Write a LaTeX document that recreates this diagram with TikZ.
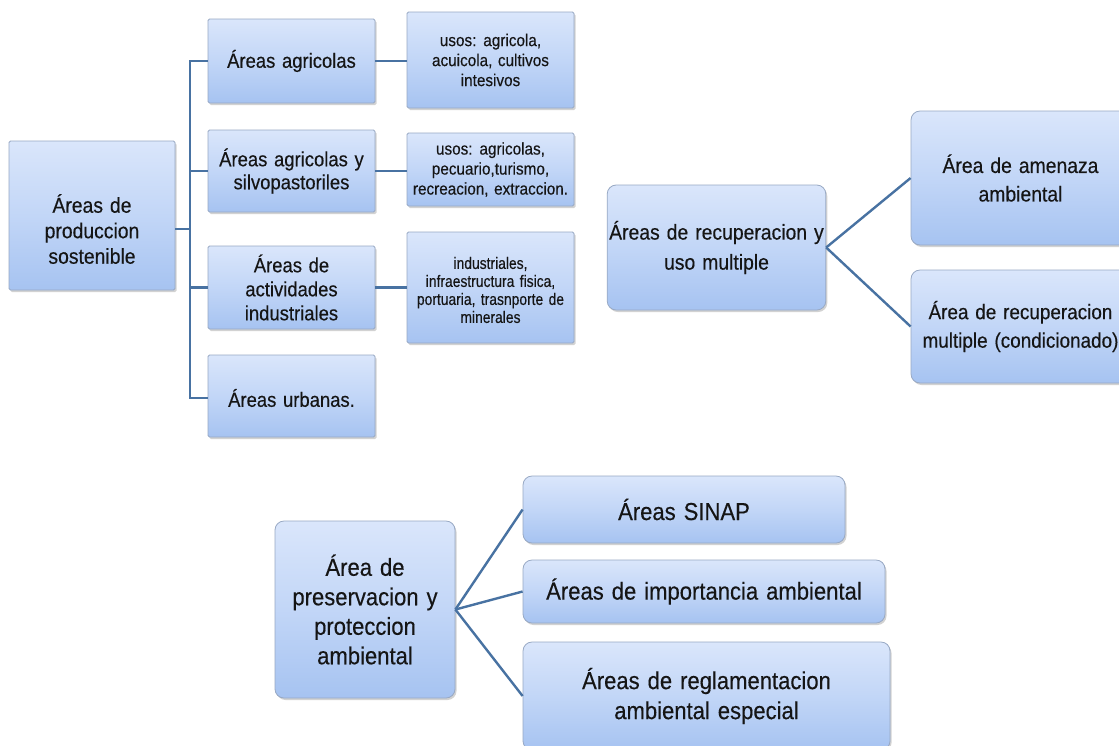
\documentclass[tikz,border=0pt]{standalone}
\usepackage{fontspec}
\setmainfont{Liberation Sans}[FakeStretch=0.9, WordSpace=1.3, FakeBold=0.3]
\newfontfamily\narrowfont{Liberation Sans}[FakeStretch=0.84, WordSpace=1.4, FakeBold=0.3]
\usetikzlibrary{shadows,calc}
\definecolor{boxtop}{HTML}{DAE6FB}
\definecolor{boxmid}{HTML}{C2D6F7}
\definecolor{boxbot}{HTML}{A6C3F1}
\definecolor{boxline}{HTML}{98A9C4}
\definecolor{linkblue}{HTML}{4872A2}
\definecolor{ink}{HTML}{151515}
\tikzset{
  box/.style={draw=boxline, line width=0.8pt, top color=boxtop, bottom color=boxbot,
    middle color=boxmid, inner sep=2pt, align=center, text=ink,
    drop shadow={opacity=0.35, shadow xshift=1.5pt, shadow yshift=-2pt, fill=gray}},
  sqbox/.style={box, rounded corners=1.5pt},
  rdbox/.style={box, rounded corners=9pt},
  txt/.style={align=center, text=ink, inner sep=0pt},
  link/.style={draw=linkblue, line width=2.8pt},
  slant/.style={draw=linkblue, line width=2.4pt},
}
\newcommand{\fs}[2]{\fontsize{#1}{#2}\selectfont}
\begin{document}
\begin{tikzpicture}[x=1pt, y=-1pt]
\clip (0,0) rectangle (1119,745);
\fill[white] (0,0) rectangle (1119,745);

% --- producción sostenible ---
\node[sqbox, minimum width=166pt, minimum height=149pt] (a) at (92,215.5) {};
\node[txt, font=\fs{21.5}{25.5}] (atext) at (92,229) {Áreas de\\produccion\\sostenible};

\node[sqbox, minimum width=167pt, minimum height=84pt, font=\fs{20.5}{23}] (b1) at (291.5,61) {Áreas agricolas};
\node[sqbox, minimum width=167pt, minimum height=82pt, font=\fs{20.5}{23}] (b2) at (291.5,171) {Áreas agricolas y\\silvopastoriles};
\node[sqbox, minimum width=167pt, minimum height=83pt, font=\fs{20.5}{24}] (b3) at (291.5,287.5) {Áreas de\\actividades\\industriales};
\node[sqbox, minimum width=167pt, minimum height=82pt] (b4) at (291.5,396) {};
\node[txt, font=\fs{20.5}{23}] (b4text) at (291.5,398) {Áreas urbanas.};

\node[sqbox, minimum width=167pt, minimum height=96pt, font=\fs{17}{20}] (c1) at (490.5,60) {usos: agricola,\\acuicola, cultivos\\intesivos};
\node[sqbox, minimum width=167pt, minimum height=73pt, font=\fs{17}{20}] (c2) at (490.5,169.5) {usos: agricolas,\\pecuario,turismo,\\recreacion, extraccion.};
\node[sqbox, minimum width=167pt, minimum height=111pt] (c3) at (490.5,287.5) {};
\node[txt, font=\narrowfont\fs{16.5}{18}] (c3text) at (490.5,290) {industriales,\\infraestructura fisica,\\portuaria, trasnporte de\\minerales};

\coordinate (trunk) at (190,229);
\draw[link] (trunk -| a.east) -- (trunk);
\draw[link] (trunk) |- (b1.west);
\draw[link] (trunk) |- (b2.west);
\draw[link] (trunk) |- (b3.west);
\draw[link] (trunk) |- (b4text.west -| b4.west);
\draw[link] (b1.east) -- (b1.east -| c1.west);
\draw[link] (b2.east) -- (b2.east -| c2.west);
\draw[link] (b3.east) -- (b3.east -| c3.west);

% --- recuperación y uso múltiple ---
\node[rdbox, minimum width=217pt, minimum height=125pt, font=\fs{21.5}{30}] (d) at (716.5,247.5) {Áreas de recuperacion y\\uso multiple};
\node[rdbox, minimum width=219pt, minimum height=134pt, font=\fs{21.5}{28.5}] (e1) at (1020.5,178) {Área de amenaza\\ambiental};
\node[rdbox, minimum width=219pt, minimum height=113pt, font=\fs{21}{28.5}] (e2) at (1020.5,326.5) {Área de recuperacion\\multiple (condicionado)};
\draw[slant] (d.east) -- (e1.west);
\draw[slant] (d.east) -- (e2.west);

% --- preservación y protección ambiental ---
\node[rdbox, minimum width=180pt, minimum height=177pt, font=\fs{24.5}{29.5}] (f) at (365,609.5) {Área de\\preservacion y\\proteccion\\ambiental};
\node[rdbox, minimum width=322pt, minimum height=67pt, font=\fs{24.5}{30}] (g1) at (684,509.5) {Áreas SINAP};
\node[rdbox, minimum width=362pt, minimum height=63pt, font=\fs{24.5}{30}] (g2) at (704,591.5) {Áreas de importancia ambiental};
\node[rdbox, minimum width=367pt, minimum height=108pt, font=\fs{24.5}{30}] (g3) at (706.5,696) {Áreas de reglamentacion\\ambiental especial};
\draw[slant] (f.east) -- (g1.west);
\draw[slant] (f.east) -- (g2.west);
\draw[slant] (f.east) -- (g3.west);
\end{tikzpicture}
\end{document}
